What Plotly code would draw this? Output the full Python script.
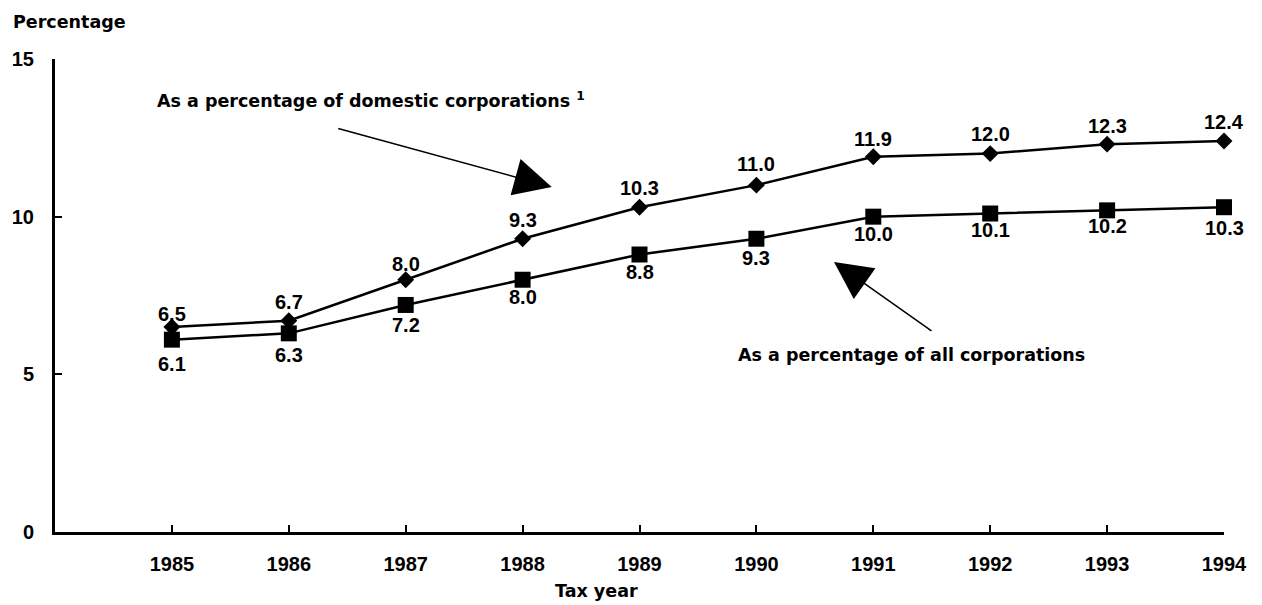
import plotly.graph_objects as go

years = [1985, 1986, 1987, 1988, 1989, 1990, 1991, 1992, 1993, 1994]
domestic = [6.5, 6.7, 8.0, 9.3, 10.3, 11.0, 11.9, 12.0, 12.3, 12.4]
all_corps = [6.1, 6.3, 7.2, 8.0, 8.8, 9.3, 10.0, 10.1, 10.2, 10.3]
y_ticks = [0, 5, 10, 15]

# label offsets (pixels) relative to the point, as in the reference
dom_shift = [13, 19, 15.5, 19, 19, 21, 17.5, 20, 18.5, 19]
all_shift = [-24, -22, -20.5, -17.5, -17.5, -19.5, -17.5, -16, -16, -21]

NUM_FONT = "Liberation Sans, Arial, Helvetica, sans-serif"
TXT_FONT = "DejaVu Sans, Liberation Sans, Arial, sans-serif"

fig = go.Figure()
fig.add_trace(go.Scatter(
    x=years, y=domestic, mode="lines+markers",
    line=dict(color="black", width=2.5),
    marker=dict(symbol="diamond", size=13, color="black"),
    cliponaxis=False, showlegend=False, hoverinfo="x+y"))
fig.add_trace(go.Scatter(
    x=years, y=all_corps, mode="lines+markers",
    line=dict(color="black", width=2.5),
    marker=dict(symbol="square", size=16, color="black"),
    cliponaxis=False, showlegend=False, hoverinfo="x+y"))

lab_font = dict(family=NUM_FONT, size=20, color="black", weight="bold")
for x, v, s in zip(years, domestic, dom_shift):
    fig.add_annotation(x=x, y=v, text=f"{v:.1f}", showarrow=False,
                       yshift=s, font=lab_font, xanchor="center", yanchor="middle")
for x, v, s in zip(years, all_corps, all_shift):
    fig.add_annotation(x=x, y=v, text=f"{v:.1f}", showarrow=False,
                       yshift=s, font=lab_font, xanchor="center", yanchor="middle")

W, H = 1262, 605
L, R, T, B = 52, 38, 59, 73
pw, ph = W - L - R, H - T - B

def px(xp):
    return (xp - L) / pw

def py(yp):
    return (H - B - yp) / ph

txt_font = dict(family=TXT_FONT, size=17.5, color="black", weight="bold")
fig.add_annotation(xref="paper", yref="paper", x=px(152), y=py(100),
                   text="As a percentage of domestic corporations <sup>1</sup>",
                   showarrow=False, xanchor="left", yanchor="middle", font=txt_font)
fig.add_annotation(xref="paper", yref="paper", x=px(735), y=py(355),
                   text="As a percentage of all corporations",
                   showarrow=False, xanchor="left", yanchor="middle", font=txt_font)
# arrows
fig.add_annotation(xref="paper", yref="paper", x=px(550), y=py(187), text="",
                   showarrow=True, arrowhead=2, arrowsize=5, arrowwidth=1.5,
                   arrowcolor="black", ax=335 - 550, ay=128 - 187)
fig.add_annotation(xref="paper", yref="paper", x=px(833), y=py(262), text="",
                   showarrow=True, arrowhead=2, arrowsize=5, arrowwidth=1.5,
                   arrowcolor="black", ax=932 - 833, ay=332 - 262)
# axis titles
fig.add_annotation(xref="paper", yref="paper", x=px(8), y=py(22), text="Percentage",
                   showarrow=False, xanchor="left", yanchor="middle", font=txt_font)
fig.add_annotation(xref="paper", yref="paper", x=px(595), y=py(591), text="Tax year",
                   showarrow=False, xanchor="center", yanchor="middle", font=txt_font)

tick_font = dict(family=NUM_FONT, size=20, color="black", weight="bold")
fig.update_xaxes(range=[1984, 1994], tickvals=years, ticktext=[str(y) for y in years],
                 showgrid=False, zeroline=False, showline=True, linecolor="black",
                 linewidth=3, ticks="inside", ticklen=7, tickwidth=2, tickcolor="black",
                 tickfont=tick_font, ticklabelstandoff=12)
fig.update_yaxes(range=[0, 15], tickvals=y_ticks, showgrid=False, zeroline=False,
                 showline=True, linecolor="black", linewidth=3, ticks="inside",
                 ticklen=7, tickwidth=2, tickcolor="black", tickfont=tick_font,
                 ticklabelstandoff=14)
fig.update_layout(width=W, height=H, margin=dict(l=L, r=R, t=T, b=B),
                  plot_bgcolor="white", paper_bgcolor="white")
fig.write_html("out.html", config={"displayModeBar": False},
               post_script="document.body.style.margin='0px';")
